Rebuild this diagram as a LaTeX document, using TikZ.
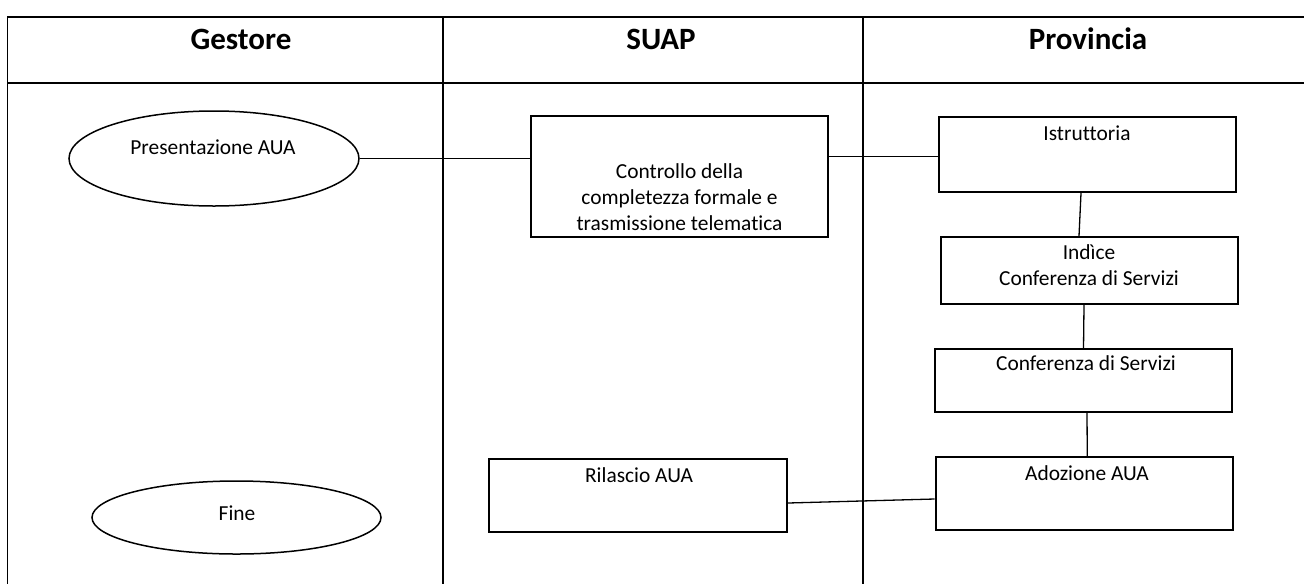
\documentclass[tikz,border=0pt]{standalone}
\usepackage{fontspec}
\setmainfont{Carlito}[Ligatures=NoCommon]
\usetikzlibrary{shapes.geometric,calc}
\begin{document}
\begin{tikzpicture}[x=0.5pt,y=-0.5pt,
  tline/.style={line width=1.1pt},
  vline/.style={line width=0.9pt},
  box/.style={draw, rectangle, line width=1pt, inner sep=0pt},
  oval/.style={draw, ellipse, line width=0.75pt, inner sep=0pt},
  conn/.style={line width=0.65pt},
  hdr/.style={font=\fontsize{15.5}{18}\selectfont\bfseries, anchor=base, inner sep=0pt},
  txt/.style={font=\fontsize{10.7}{13}\selectfont, align=center, inner sep=0pt}]
\useasboundingbox (0,0) rectangle (1304,584);
% table grid
\draw[tline] (7.5,16.7) -- (1304,16.7);
\draw[tline] (7.5,82.7) -- (1304,82.7);
\draw[vline] (7.5,16.2) -- (7.5,584);
\draw[vline] (443,16.2) -- (443,584);
\draw[vline] (862.7,16.2) -- (862.7,584);
% headers
\node[hdr] (hG) at (241,49) {Gestore};
\node[hdr] (hS) at (661,49) {SUAP};
\node[hdr] (hP) at (1088,49) {Provincia};
% shapes
\node[oval, minimum width=145pt, minimum height=47.5pt] (pres) at (214,158.5) {};
\node[txt] (presT) at (213,147) {Presentazione AUA};
\node[box, minimum width=148.5pt, minimum height=60.5pt] (ctrl) at (679.5,176.2) {};
\node[txt] (ctrlT) at (679.5,197) {Controllo della\\completezza formale e\\trasmissione telematica};
\node[box, minimum width=148.5pt, minimum height=37.5pt] (istr) at (1087,154.5) {};
\node[txt] (istrT) at (1087,133) {Istruttoria};
\node[box, minimum width=148.5pt, minimum height=33.5pt] (ind) at (1089,270.5) {};
\node[txt] (indT) at (1089,265) {Indìce\\Conferenza di Servizi};
\node[box, minimum width=148.5pt, minimum height=31.5pt] (conf) at (1083.5,380.5) {};
\node[txt] (confT) at (1086,363) {Conferenza di Servizi};
\node[box, minimum width=148.75pt, minimum height=36.5pt] (adoz) at (1084.25,493.5) {};
\node[txt] (adozT) at (1087,473) {Adozione AUA};
\node[box, minimum width=149pt, minimum height=36.5pt] (ril) at (638,495.5) {};
\node[txt] (rilT) at (639,475) {Rilascio AUA};
\node[oval, minimum width=144.5pt, minimum height=36.5pt] (fine) at (236.5,517.5) {};
\node[txt] (fineT) at (237,513) {Fine};
% connectors
\draw[conn] (pres.east) -- (pres.east -| ctrl.west);
\draw[conn] ($(istr.west -| ctrl.east)+(0,2)$) -- ($(istr.west)+(0,2)$);
\draw[conn] ($(istr.south)+(-6,0)$) -- ($(ind.north)+(-10,0)$);
\draw[conn] ($(ind.south)+(-5,0)$) -- (conf.north);
\draw[conn] ($(conf.south)+(3.5,0)$) -- ($(adoz.north)+(3,0)$);
\draw[conn] ($(ril.east)+(0,7.5)$) -- ($(adoz.west)+(0,5.5)$);
\end{tikzpicture}
\end{document}
